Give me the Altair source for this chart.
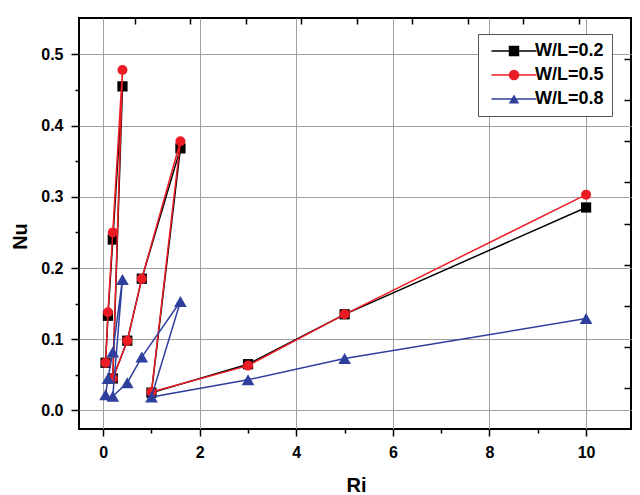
import altair as alt
import pandas as pd

# ---- data ----
ri = [0.05, 0.1, 0.2, 0.4, 0.2, 0.5, 0.8, 1.6, 1.0, 3.0, 5.0, 10.0]
nu_02 = [0.067, 0.133, 0.240, 0.455, 0.045, 0.098, 0.185, 0.368, 0.025, 0.065, 0.135, 0.285]
nu_05 = [0.067, 0.138, 0.250, 0.478, 0.045, 0.098, 0.185, 0.378, 0.026, 0.063, 0.135, 0.303]
nu_08 = [0.022, 0.045, 0.082, 0.184, 0.020, 0.039, 0.075, 0.153, 0.019, 0.043, 0.073, 0.129]
series = ["W/L=0.2", "W/L=0.5", "W/L=0.8"]
markers = ["square 0.2", "circle 0.5", "triangle 0.8"]
colors = ["#000000", "#ec1c24", "#2e3f9e"]
shapes = ["square", "circle", "triangle-up"]
marker_sizes = [105, 100, 160]

x_ticks = list(range(0, 12))
y_ticks = [round(0.05 * i, 2) for i in range(0, 11)]
top_ticks = list(range(0, 9))
right_ticks = list(range(1, 10))

rows = []
for s, m, vals in zip(series, markers, [nu_02, nu_05, nu_08]):
    for i, (r, n) in enumerate(zip(ri, vals)):
        rows.append({"series": s, "marker": m, "Ri": r, "Nu": n, "i": i})
df = pd.DataFrame(rows)

FONT = "Liberation Sans"
W, H = 552, 411

xscale = alt.Scale(domain=[-0.5, 10.93], nice=False, zero=False)
yscale = alt.Scale(domain=[-0.026, 0.551], nice=False, zero=False)
stroke_scale = alt.Scale(domain=series, range=colors)
fill_scale = alt.Scale(domain=markers, range=colors)
shape_scale = alt.Scale(domain=markers, range=shapes)

x_axis = alt.Axis(
    values=x_ticks,
    title="Ri",
    labelExpr="datum.value % 2 === 0 ? datum.label : ''",
    tickSize={"condition": {"test": "datum.value % 2 === 0", "value": 7}, "value": 4},
    gridOpacity={"condition": {"test": "datum.value % 2 === 0", "value": 1}, "value": 0},
    labelPadding=8,
    titleX=277,
    titleY=62,
    titleAlign="center",
    titleBaseline="alphabetic",
)
y_axis = alt.Axis(
    values=y_ticks,
    title="Nu",
    labelExpr="round(datum.value * 100) % 10 === 0 ? format(datum.value, '.1f') : ''",
    tickSize={"condition": {"test": "round(datum.value * 100) % 10 === 0", "value": 8}, "value": 4},
    gridOpacity={"condition": {"test": "round(datum.value * 100) % 10 === 0", "value": 1}, "value": 0},
    labelPadding=8,
    titleX=-53,
    titleY=218,
    titleAlign="center",
    titleBaseline="alphabetic",
)

line_legend = alt.Legend(
    orient="none", legendX=399, legendY=16, title=None,
    symbolType="M-4.5,0H4.5", symbolSize=100, symbolStrokeWidth=1.5,
    symbolOffset=19, labelOffset=12,
    labelFont=FONT, labelFontSize=18, labelFontWeight="bold", labelColor="black",
    padding=8, rowPadding=6, strokeColor="#555555", fillColor="white", zindex=1,
)
point_legend = alt.Legend(
    orient="none", legendX=418, legendY=16, title=None,
    symbolSize=110, symbolStrokeWidth=0, labelExpr="''",
    labelFont=FONT, labelFontSize=18, labelFontWeight="bold",
    padding=8, rowPadding=6, zindex=2,
)

base = alt.Chart(df)
layers = []
for s, sz in zip(series, marker_sizes):
    sub = base.transform_filter(alt.datum.series == s)
    line = sub.mark_line(strokeWidth=1.5).encode(
        x=alt.X("Ri:Q", scale=xscale, axis=x_axis),
        y=alt.Y("Nu:Q", scale=yscale, axis=y_axis),
        stroke=alt.Stroke("series:N", scale=stroke_scale, legend=line_legend),
        order=alt.Order("i:Q"),
    )
    pts = sub.mark_point(filled=True, opacity=1, strokeWidth=0).encode(
        x=alt.X("Ri:Q", scale=xscale, axis=x_axis),
        y=alt.Y("Nu:Q", scale=yscale, axis=y_axis),
        fill=alt.Fill("marker:N", scale=fill_scale, legend=point_legend),
        shape=alt.Shape("marker:N", scale=shape_scale, legend=point_legend),
        size=alt.value(sz),
    )
    layers += [line, pts]
main = alt.layer(*layers)

# mirror axes on top and right (ticks only, pointing inward)
mirror_df = pd.DataFrame({"t": top_ticks, "r": right_ticks})
mirror = alt.Chart(mirror_df).mark_point(opacity=0).encode(
    x=alt.X("t:Q", scale=alt.Scale(domain=[-1.009, 8.937], nice=False, zero=False),
            axis=alt.Axis(orient="top", values=top_ticks, labels=False, domain=False,
                          grid=False, ticks=True, tickSize=6, offset=-6, title=None)),
    y=alt.Y("r:Q", scale=alt.Scale(domain=[0, 10], nice=False, zero=False),
            axis=alt.Axis(orient="right", values=right_ticks, labels=False, domain=False,
                          grid=False, ticks=True, tickSize=7, offset=-7, title=None)),
)

chart = (
    alt.layer(main, mirror)
    .resolve_scale(x="independent", y="independent")
    .resolve_axis(x="independent", y="independent")
    .properties(
        width=W, height=H,
        autosize=alt.AutoSizeParams(type="none"),
        padding={"left": 71, "top": 10, "right": 1, "bottom": 66},
        background="white",
    )
    .configure_view(stroke="black", strokeWidth=2)
    .configure_axis(
        labelFont=FONT, labelFontSize=16, labelFontWeight="bold", labelColor="black",
        titleFont=FONT, titleFontSize=20, titleFontWeight="bold", titleColor="black",
        gridColor="#a0a0a0", gridWidth=1, tickColor="black", tickWidth=1.5,
        domain=False,
    )
)

chart.save("out.html", embed_options={"renderer": "svg", "actions": False})
